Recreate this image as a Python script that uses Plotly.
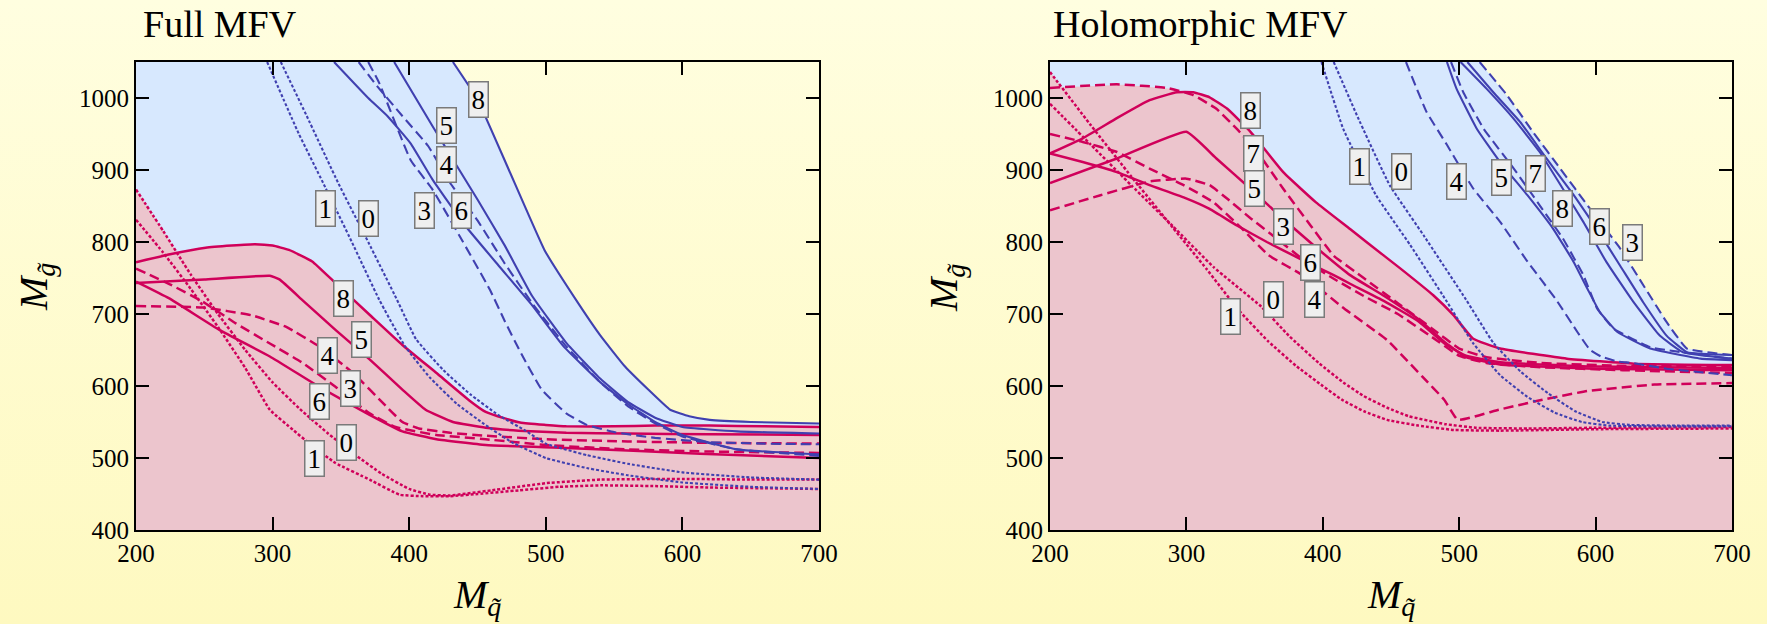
import base64
import numpy as np
import plotly.graph_objects as go

# ---------------- data : Full MFV (left panel) ----------------
full_r8_x = [200, 225, 251, 270, 287, 300, 312, 329, 346, 371, 395, 420, 444, 456, 470, 482, 500, 515, 550, 580, 620, 660, 700]
full_r8_y = [772, 783, 792, 795, 797, 795, 789, 773, 743, 699, 657, 618, 580, 564, 555, 549, 546, 544, 544, 545, 545, 544, 543]
full_r5_x = [200, 250, 298, 305, 322, 346, 371, 395, 412, 432, 456, 480, 515, 560, 620, 700]
full_r5_y = [743, 748, 753, 748, 719, 678, 637, 595, 567, 550, 542, 538, 535, 534, 533, 532]
full_r6_x = [200, 224, 261, 298, 334, 371, 395, 420, 456, 515, 613, 700]
full_r6_y = [745, 722, 678, 641, 599, 560, 537, 526, 518, 514, 506, 500]
full_r4_x = [200, 249, 285, 310, 334, 359, 383, 395, 407, 430, 456, 500, 560, 620, 700]
full_r4_y = [711, 709, 698, 682, 655, 618, 572, 550, 541, 535, 531, 526, 523, 521, 520]
full_r3_x = [200, 224, 249, 273, 298, 322, 346, 371, 390, 420, 456, 500, 560, 620, 700]
full_r3_y = [763, 742, 717, 687, 659, 632, 599, 562, 543, 532, 526, 518, 512, 509, 507]
full_r1_x = [200, 220, 240, 260, 280, 298, 315, 327, 346, 371, 393, 410, 430, 450, 480, 510, 540, 580, 620, 660, 700]
full_r1_y = [831, 785, 735, 682, 625, 567, 539, 520, 493, 470, 449, 447, 447, 450, 455, 460, 462, 461, 459, 458, 457]
full_r0_x = [200, 220, 240, 260, 280, 300, 320, 340, 360, 380, 400, 415, 430, 460, 500, 540, 600, 650, 700]
full_r0_y = [873, 815, 755, 700, 650, 605, 568, 535, 505, 478, 457, 449, 448, 455, 465, 470, 471, 470, 470]

full_b8_x = [432, 450, 473, 499, 522, 540, 558, 575, 591, 605, 620, 650, 700]
full_b8_y = [1050, 998, 900, 789, 720, 670, 627, 595, 567, 558, 553, 550, 548]
full_b5_x = [389, 417, 450, 470, 490, 515, 540, 560, 580, 600, 640, 700]
full_b5_y = [1050, 961, 859, 795, 725, 660, 610, 578, 556, 543, 537, 534]
full_b6_x = [345, 370, 384, 401, 417, 440, 466, 490, 513, 540, 560, 580, 600, 640, 700]
full_b6_y = [1050, 1000, 975, 937, 887, 825, 766, 712, 655, 605, 575, 550, 532, 512, 505]
full_b4_x = [363, 375, 395, 414, 430, 450, 470, 490, 515, 540, 560, 580, 600, 640, 700]
full_b4_y = [1050, 1020, 975, 933, 882, 830, 770, 715, 655, 605, 572, 548, 530, 512, 503]
full_b3_x = [370, 378, 401, 417, 437, 459, 470, 482, 497, 515, 530, 550, 580, 620, 660, 700]
full_b3_y = [1050, 1021, 914, 873, 808, 734, 690, 645, 595, 562, 546, 536, 528, 522, 520, 519]
full_b1_x = [296, 319, 337, 358, 378, 397, 415, 435, 455, 475, 500, 530, 560, 600, 650, 700]
full_b1_y = [1050, 951, 882, 800, 720, 655, 612, 575, 547, 522, 500, 486, 476, 466, 460, 457]
full_b0_x = [306, 325, 348, 370, 391, 405, 425, 445, 465, 485, 500, 530, 560, 600, 650, 700]
full_b0_y = [1050, 975, 882, 800, 720, 665, 622, 588, 560, 538, 520, 504, 492, 480, 473, 470]

full_red_labels = ["8", "5", "4", "3", "6", "0", "1"]
full_red_lab_x = [352, 365, 340, 357, 334, 354, 331]
full_red_lab_y = [722, 665, 643, 596, 578, 522, 500]
full_blue_labels = ["8", "5", "4", "3", "6", "1", "0"]
full_blue_lab_x = [451, 427, 427, 411, 438, 339, 370]
full_blue_lab_y = [998, 962, 907, 844, 844, 846, 832]

# ---------------- data : Holomorphic MFV (right panel) ----------------
holo_r8_x = [200, 224, 249, 273, 293, 305, 317, 330, 347, 371, 395, 420, 432, 457, 481, 496, 510, 530, 579, 628, 700]
holo_r8_y = [923, 944, 972, 997, 1008, 1008, 1001, 985, 953, 897, 855, 818, 800, 763, 726, 698, 666, 652, 638, 631, 629]
holo_r7_x = [200, 249, 286, 305, 322, 337, 352, 371, 391, 408, 430, 455, 480, 500, 520, 560, 620, 700]
holo_r7_y = [1014, 1019, 1014, 1004, 985, 957, 925, 874, 823, 781, 750, 715, 680, 652, 640, 632, 628, 627]
holo_r5_x = [200, 249, 300, 322, 347, 371, 396, 420, 445, 470, 490, 505, 530, 600, 700]
holo_r5_y = [882, 916, 953, 916, 874, 832, 791, 754, 725, 693, 660, 640, 630, 624, 622]
holo_r6_x = [200, 224, 249, 273, 298, 317, 337, 359, 383, 408, 420, 445, 470, 490, 505, 530, 600, 700]
holo_r6_y = [923, 911, 897, 879, 862, 846, 823, 800, 777, 754, 742, 718, 690, 658, 642, 633, 627, 625]
holo_r3_x = [200, 237, 273, 300, 317, 330, 347, 366, 386, 408, 430, 455, 480, 500, 520, 560, 620, 700]
holo_r3_y = [844, 865, 884, 888, 879, 860, 833, 805, 775, 749, 725, 700, 668, 642, 632, 626, 622, 618]
holo_r4_x = [200, 224, 249, 273, 298, 320, 340, 360, 386, 414, 447, 473, 489, 499, 529, 561, 594, 643, 700]
holo_r4_y = [950, 939, 925, 902, 879, 855, 820, 782, 753, 710, 664, 613, 581, 553, 567, 581, 593, 602, 604]
holo_r1_x = [200, 230, 260, 290, 315, 338, 360, 381, 400, 414, 430, 447, 470, 496, 530, 600, 700]
holo_r1_y = [1036, 962, 890, 820, 762, 706, 662, 627, 600, 581, 565, 553, 545, 539, 538, 540, 541]
holo_r0_x = [200, 230, 260, 290, 320, 355, 375, 397, 415, 430, 447, 463, 490, 512, 550, 600, 700]
holo_r0_y = [992, 935, 878, 822, 765, 710, 670, 632, 605, 586, 570, 558, 547, 542, 541, 542, 543]

holo_b1_x = [399, 415, 439, 464, 490, 510, 530, 550, 570, 590, 610, 650, 700]
holo_b1_y = [1050, 957, 865, 796, 720, 660, 615, 585, 563, 550, 545, 544, 544]
holo_b0_x = [408, 425, 449, 474, 505, 525, 545, 565, 585, 605, 625, 660, 700]
holo_b0_y = [1050, 976, 879, 809, 720, 660, 620, 590, 565, 550, 546, 545, 545]
holo_b4_x = [461, 476, 491, 510, 530, 550, 571, 587, 596, 604, 616, 627, 652, 700]
holo_b4_y = [1050, 981, 935, 875, 828, 773, 720, 674, 650, 641, 634, 632, 624, 615]
holo_b5_x = [491, 498, 513, 530, 550, 569, 584, 594, 603, 616, 640, 677, 700]
holo_b5_y = [1050, 1013, 957, 911, 865, 818, 772, 735, 703, 675, 652, 638, 636]
holo_b7_x = [494, 503, 518, 540, 559, 576, 591, 601, 613, 640, 700]
holo_b7_y = [1050, 1008, 957, 902, 851, 805, 754, 708, 680, 654, 638]
holo_b8_x = [501, 520, 540, 559, 576, 591, 608, 628, 647, 664, 700]
holo_b8_y = [1050, 1013, 971, 925, 874, 828, 772, 716, 670, 647, 638]
holo_b6_x = [506, 525, 545, 564, 584, 601, 618, 635, 652, 667, 700]
holo_b6_y = [1050, 1008, 966, 916, 865, 818, 767, 716, 670, 647, 643]
holo_b3_x = [515, 535, 554, 574, 596, 618, 635, 652, 667, 700]
holo_b3_y = [1050, 1004, 953, 902, 846, 791, 740, 689, 652, 643]

holo_red_labels = ["8", "7", "5", "3", "6", "0", "4", "1"]
holo_red_lab_x = [347, 349, 350, 371, 391, 364, 394, 332]
holo_red_lab_y = [982, 923, 874, 822, 771, 720, 720, 696]
holo_blue_labels = ["1", "0", "4", "5", "7", "8", "6", "3"]
holo_blue_lab_x = [427, 458, 498, 531, 556, 576, 603, 627]
holo_blue_lab_y = [905, 898, 884, 890, 895, 846, 822, 800]

x_ticks = [200, 300, 400, 500, 600, 700]
y_ticks = [400, 500, 600, 700, 800, 900, 1000]
X_RANGE = [200, 700]
Y_RANGE = [400, 1050]

# ---------------- styles ----------------
BG = "#FFFCD2"
BG_TOP = "#FFFEE0"
BG_BOTTOM = "#FEF9C0"
BLUE_FILL = "#D7E8FE"
PINK_FILL = "#ECC5CD"
BLUE_LINE = "#4040B0"
RED_LINE = "#D0005A"
DASH = {"solid": "solid", "dash": "10px,5px", "dot": "3px,2px"}
SERIF = "Liberation Serif"

full_red = [(full_r8_x, full_r8_y, "solid"), (full_r5_x, full_r5_y, "solid"), (full_r6_x, full_r6_y, "solid"),
            (full_r4_x, full_r4_y, "dash"), (full_r3_x, full_r3_y, "dash"),
            (full_r1_x, full_r1_y, "dot"), (full_r0_x, full_r0_y, "dot")]
full_blue = [(full_b8_x, full_b8_y, "solid"), (full_b5_x, full_b5_y, "solid"), (full_b6_x, full_b6_y, "solid"),
             (full_b4_x, full_b4_y, "dash"), (full_b3_x, full_b3_y, "dash"),
             (full_b1_x, full_b1_y, "dot"), (full_b0_x, full_b0_y, "dot")]
holo_red = [(holo_r8_x, holo_r8_y, "solid"), (holo_r5_x, holo_r5_y, "solid"), (holo_r6_x, holo_r6_y, "solid"),
            (holo_r7_x, holo_r7_y, "dash"), (holo_r3_x, holo_r3_y, "dash"), (holo_r4_x, holo_r4_y, "dash"),
            (holo_r1_x, holo_r1_y, "dot"), (holo_r0_x, holo_r0_y, "dot")]
holo_blue = [(holo_b5_x, holo_b5_y, "solid"), (holo_b8_x, holo_b8_y, "solid"), (holo_b6_x, holo_b6_y, "solid"),
             (holo_b7_x, holo_b7_y, "dash"), (holo_b3_x, holo_b3_y, "dash"), (holo_b4_x, holo_b4_y, "dash"),
             (holo_b1_x, holo_b1_y, "dot"), (holo_b0_x, holo_b0_y, "dot")]


def envelope(curves, top_left):
    xs = np.linspace(X_RANGE[0], X_RANGE[1], 1001)
    stack = []
    for cx, cy, _ in curves:
        left = Y_RANGE[1] if top_left else np.nan
        stack.append(np.interp(xs, cx, cy, left=left, right=cy[-1]))
    return xs, np.nanmax(np.vstack(stack), axis=0)


fig = go.Figure()

panels = [
    ("x", "y", full_red, full_blue, (full_red_labels, full_red_lab_x, full_red_lab_y),
     (full_blue_labels, full_blue_lab_x, full_blue_lab_y)),
    ("x2", "y2", holo_red, holo_blue, (holo_red_labels, holo_red_lab_x, holo_red_lab_y),
     (holo_blue_labels, holo_blue_lab_x, holo_blue_lab_y)),
]

annotations = []
for xa, ya, reds, blues, rlab, blab in panels:
    bx, by = envelope(blues, True)
    fig.add_trace(go.Scatter(x=bx, y=by, mode="lines", fill="tozeroy", fillcolor=BLUE_FILL,
                             line=dict(width=0), hoverinfo="skip", showlegend=False, xaxis=xa, yaxis=ya))
    rx, ry = envelope(reds, False)
    fig.add_trace(go.Scatter(x=rx, y=ry, mode="lines", fill="tozeroy", fillcolor=PINK_FILL,
                             line=dict(width=0), hoverinfo="skip", showlegend=False, xaxis=xa, yaxis=ya))
    for cx, cy, st in reds:
        fig.add_trace(go.Scatter(x=cx, y=cy, mode="lines",
                                 line=dict(color=RED_LINE, width=2.5, dash=DASH[st], shape="spline", smoothing=0.35),
                                 showlegend=False, xaxis=xa, yaxis=ya))
    for cx, cy, st in blues:
        fig.add_trace(go.Scatter(x=cx, y=cy, mode="lines",
                                 line=dict(color=BLUE_LINE, width=2.1, dash=DASH[st], shape="spline", smoothing=0.35),
                                 showlegend=False, xaxis=xa, yaxis=ya))
    for labs, lx, ly in (rlab, blab):
        for t, px, py in zip(labs, lx, ly):
            annotations.append(dict(x=px, y=py, xref=xa, yref=ya, text=t, showarrow=False,
                                    font=dict(family=SERIF, size=27, color="black"),
                                    bgcolor="#EFEFEF", bordercolor="#7A7A7A", borderwidth=1.5, borderpad=2))

# titles and axis titles
annotations += [
    dict(x=141 / 1767, y=1 - 24 / 624, xref="paper", yref="paper", text="Full MFV", showarrow=False,
         xanchor="left", yanchor="middle", font=dict(family=SERIF, size=38, color="black")),
    dict(x=1051 / 1767, y=1 - 24 / 624, xref="paper", yref="paper", text="Holomorphic MFV", showarrow=False,
         xanchor="left", yanchor="middle", font=dict(family=SERIF, size=38, color="black")),
]
for cx in (477.5, 1391):
    annotations.append(dict(x=cx / 1767, y=1 - 597 / 624, xref="paper", yref="paper",
                            text="<i>M</i><sub><i>q\u0303</i></sub>", showarrow=False,
                            xanchor="center", yanchor="middle", font=dict(family=SERIF, size=40, color="black")))
for cx in (36, 946):
    annotations.append(dict(x=cx / 1767, y=1 - 287 / 624, xref="paper", yref="paper",
                            text="<i>M</i><sub><i>g\u0303</i></sub>", showarrow=False, textangle=-90,
                            xanchor="center", yanchor="middle", font=dict(family=SERIF, size=40, color="black")))

axis_common = dict(showgrid=False, zeroline=False, showline=True, linecolor="black", linewidth=2,
                   mirror="ticks", ticks="inside", ticklen=13, tickwidth=2, tickcolor="black",
                   automargin=False, fixedrange=True,
                   tickfont=dict(family=SERIF, size=25, color="black"))

xdom_l = [136 / 1767, 819 / 1767]
xdom_r = [1050 / 1767, 1732 / 1767]
ydom = [94 / 624, 562 / 624]

# vertical pale-yellow gradient behind everything
svg = ('<svg xmlns="http://www.w3.org/2000/svg" width="10" height="100" preserveAspectRatio="none">'
       '<defs><linearGradient id="g" x1="0" y1="0" x2="0" y2="1">'
       f'<stop offset="0" stop-color="{BG_TOP}"/><stop offset="1" stop-color="{BG_BOTTOM}"/>'
       '</linearGradient></defs><rect width="10" height="100" fill="url(#g)"/></svg>')
bg_src = "data:image/svg+xml;base64," + base64.b64encode(svg.encode()).decode()

fig.update_layout(
    autosize=True,
    margin=dict(l=0, r=0, t=0, b=0, pad=0, autoexpand=False),
    paper_bgcolor=BG, plot_bgcolor="rgba(0,0,0,0)",
    showlegend=False,
    hovermode=False,
    annotations=annotations,
    images=[dict(source=bg_src, xref="paper", yref="paper", x=0, y=1, sizex=1, sizey=1,
                 xanchor="left", yanchor="top", sizing="stretch", layer="below")],
    xaxis=dict(axis_common, domain=xdom_l, range=X_RANGE, tickvals=x_ticks, anchor="y"),
    yaxis=dict(axis_common, domain=ydom, range=Y_RANGE, tickvals=y_ticks, anchor="x"),
    xaxis2=dict(axis_common, domain=xdom_r, range=X_RANGE, tickvals=x_ticks, anchor="y2"),
    yaxis2=dict(axis_common, domain=ydom, range=Y_RANGE, tickvals=y_ticks, anchor="x2"),
)

fig.write_html("out.html", default_width="100vw", default_height="100vh",
               config={"displayModeBar": False, "responsive": True},
               post_script="document.body.style.margin='0px';document.body.style.overflow='hidden';"
                           "Plotly.Plots.resize(document.getElementById('{plot_id}'));")
